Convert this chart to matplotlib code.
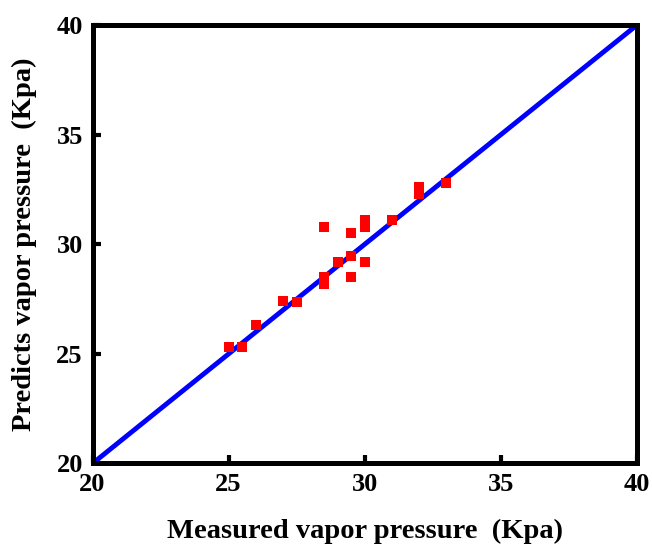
import matplotlib.pyplot as plt
import numpy as np

plt.rcParams["font.family"] = "Liberation Serif"
plt.rcParams["font.weight"] = "bold"

# measured vs predicted vapor pressure (Kpa)
measured = [25, 25.5, 26, 27, 27.5, 28.5, 28.5, 28.5, 29, 29.5, 29.5, 29.5,
            30, 30, 30, 31, 32, 32, 33]
predicted = [25.3, 25.3, 26.3, 27.4, 27.35, 28.5, 28.2, 30.8, 29.2, 30.5, 29.45, 28.5,
             31.1, 30.8, 29.2, 31.1, 32.6, 32.3, 32.8]
fit_x = [20, 40]
fit_y = [20, 40]
ticks = [20, 25, 30, 35, 40]

fig = plt.figure(figsize=(6.52, 5.44), dpi=100)
ax = fig.add_axes([0.1419, 0.148, 0.835, 0.806])

ax.plot(fit_x, fit_y, color="#0000ff", lw=3.5, zorder=2)
ax.scatter(measured, predicted, marker="s", s=52, color="#ff0000", lw=0, zorder=3)

ax.set_xlim(20, 40)
ax.set_ylim(20, 40)
ax.set_xticks(ticks)
ax.set_yticks(ticks)
ax.tick_params(direction="in", length=6, width=3, labelsize=19, pad=7)
for s in ax.spines.values():
    s.set_linewidth(3.6)

ax.set_xlabel("Measured vapor pressure  (Kpa)", fontsize=20.5, fontweight="bold", labelpad=16)
ax.set_ylabel("Predicts vapor pressure  (Kpa)", fontsize=20.5, fontweight="bold", labelpad=14)

fig.savefig("out.png", dpi=100)
